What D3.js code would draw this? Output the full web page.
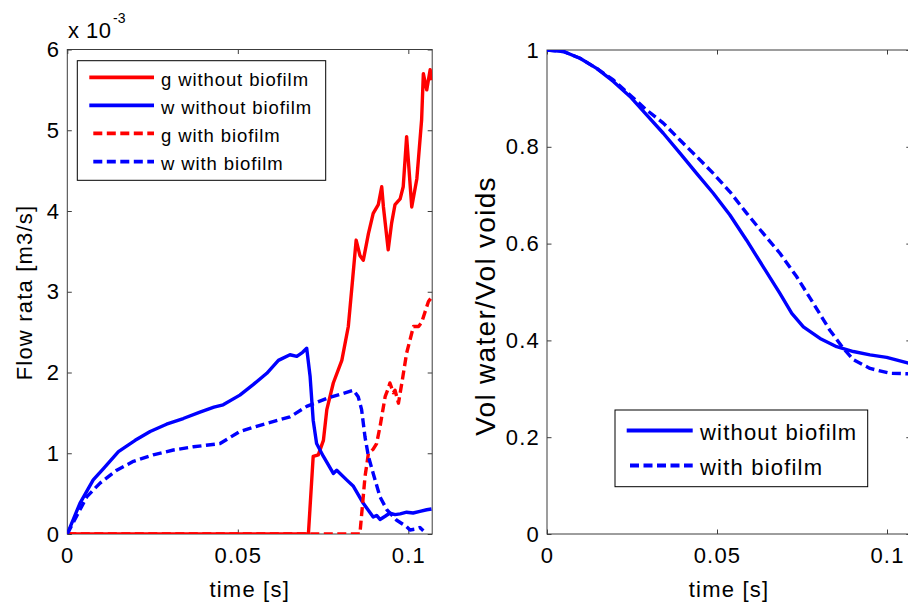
<!DOCTYPE html>
<html>
<head>
<meta charset="utf-8">
<script src="https://cdn.jsdelivr.net/npm/d3@7"></script>
<style>
  html, body { margin: 0; padding: 0; background: #fff; }
  svg { display: block; font-family: "Liberation Sans", Arial, Helvetica, sans-serif; }
</style>
</head>
<body>
<svg id="chart" width="908" height="605"></svg>
<script>
// ---- Left panel: flow rates (units of 1e-3 m3/s) ----
const tGasNoBio = [0, 0.0707, 0.0721, 0.0736, 0.0751, 0.0761, 0.0780, 0.0805, 0.0824, 0.0837, 0.0847, 0.0858, 0.0868, 0.0883, 0.0897, 0.0912, 0.0922, 0.0927, 0.0941, 0.0951, 0.0961, 0.0976, 0.0985, 0.0995, 0.1010, 0.1025, 0.1039, 0.1044, 0.1054, 0.1064, 0.1068];
const qGasNoBio = [0, 0, 0.96, 0.98, 1.16, 1.54, 1.87, 2.15, 2.57, 3.17, 3.64, 3.45, 3.39, 3.72, 3.97, 4.08, 4.30, 4.05, 3.52, 3.85, 4.08, 4.15, 4.30, 4.92, 4.05, 4.40, 5.13, 5.70, 5.50, 5.75, 5.62];

const tWatNoBio = [0, 0.0037, 0.0076, 0.0106, 0.0150, 0.0199, 0.0243, 0.0291, 0.0340, 0.0389, 0.0430, 0.0457, 0.0506, 0.0545, 0.0585, 0.0619, 0.0653, 0.0673, 0.0690, 0.0702, 0.0712, 0.0721, 0.0731, 0.0751, 0.0780, 0.0790, 0.0819, 0.0839, 0.0868, 0.0897, 0.0907, 0.0917, 0.0932, 0.0946, 0.0961, 0.0976, 0.0995, 0.1014, 0.1034, 0.1054, 0.1068];
const qWatNoBio = [0, 0.38, 0.67, 0.81, 1.02, 1.16, 1.27, 1.36, 1.43, 1.51, 1.57, 1.60, 1.72, 1.85, 1.99, 2.15, 2.22, 2.20, 2.25, 2.30, 1.95, 1.41, 1.12, 0.96, 0.75, 0.79, 0.67, 0.59, 0.38, 0.21, 0.23, 0.18, 0.22, 0.26, 0.24, 0.25, 0.27, 0.26, 0.28, 0.30, 0.31];

const tGasBio = [0, 0.0858, 0.0873, 0.0883, 0.0897, 0.0907, 0.0917, 0.0932, 0.0941, 0.0946, 0.0956, 0.0961, 0.0971, 0.0981, 0.0995, 0.1015, 0.1030, 0.1039, 0.1049, 0.1059, 0.1068];
const qGasBio = [0, 0, 0.71, 1.00, 1.05, 1.12, 1.33, 1.70, 1.80, 1.87, 1.75, 1.78, 1.62, 1.87, 2.24, 2.57, 2.57, 2.62, 2.75, 2.88, 2.93];

const tWatBio = [0, 0.0057, 0.0096, 0.0145, 0.0194, 0.0252, 0.0311, 0.0370, 0.0448, 0.0506, 0.0585, 0.0653, 0.0702, 0.0761, 0.0839, 0.0853, 0.0863, 0.0873, 0.0883, 0.0897, 0.0917, 0.0937, 0.0966, 0.0995, 0.1005, 0.1020, 0.1034, 0.1044];
const qWatBio = [0, 0.46, 0.63, 0.79, 0.90, 0.98, 1.04, 1.08, 1.12, 1.27, 1.37, 1.45, 1.58, 1.68, 1.78, 1.70, 1.54, 1.20, 0.96, 0.75, 0.46, 0.30, 0.17, 0.09, 0.05, 0.06, 0.08, 0.04];

// ---- Right panel: water saturation of the voids ----
const tSatNoBio = [0, 0.0048, 0.0097, 0.0146, 0.0195, 0.0244, 0.0293, 0.0342, 0.0391, 0.0440, 0.0489, 0.0538, 0.0587, 0.0636, 0.0685, 0.0720, 0.0754, 0.0803, 0.0852, 0.0901, 0.0950, 0.0999, 0.1068];
const sSatNoBio = [1, 0.997, 0.983, 0.962, 0.935, 0.904, 0.866, 0.828, 0.787, 0.745, 0.704, 0.659, 0.607, 0.552, 0.497, 0.456, 0.428, 0.404, 0.387, 0.377, 0.370, 0.365, 0.352];

const tSatBio = [0, 0.0048, 0.0097, 0.0146, 0.0195, 0.0244, 0.0293, 0.0342, 0.0391, 0.0440, 0.0489, 0.0538, 0.0587, 0.0636, 0.0685, 0.0734, 0.0783, 0.0832, 0.0871, 0.0901, 0.0950, 0.1009, 0.1068];
const sSatBio = [1, 0.997, 0.983, 0.962, 0.938, 0.907, 0.876, 0.849, 0.814, 0.780, 0.745, 0.707, 0.663, 0.621, 0.580, 0.532, 0.477, 0.421, 0.384, 0.360, 0.342, 0.332, 0.331];

// ---- ticks and labels ----
const timeTicks = [0, 0.05, 0.1];
const flowTicks = [0, 1, 2, 3, 4, 5, 6];
const satTicks = [0, 0.2, 0.4, 0.6, 0.8, 1];
const flowLegend = ["g without biofilm", "w without biofilm", "g with biofilm", "w with biofilm"];
const satLegend = ["without biofilm", "with biofilm"];

const RED = "#ff0000", BLUE = "#0000ff", AXIS = "#3c3c3c";
const DASH = "9,4.5";
const LW = 3.4;

const svg = d3.select("#chart");
svg.append("rect").attr("width", 908).attr("height", 605).attr("fill", "#fff");

function panel(id, xRange, yDomain, yTicks, yRange) {
  const x = d3.scaleLinear().domain([0, 0.107]).range(xRange);
  const y = d3.scaleLinear().domain(yDomain).range(yRange);
  const g = svg.append("g").attr("id", id);
  const [x0, x1] = xRange, [yb, yt] = yRange;

  g.append("clipPath").attr("id", id + "-clip")
    .append("rect").attr("x", x0).attr("y", yt).attr("width", x1 - x0).attr("height", yb - yt);

  const fmt = d => String(d);
  const style = sel => {
    sel.select(".domain").remove();
    sel.selectAll(".tick line").attr("stroke", AXIS);
    sel.selectAll("text").attr("fill", "#000")
      .style("font-size", "22px").style("letter-spacing", "1.2px")
      .style("font-family", "'Liberation Sans', Arial, sans-serif");
  };
  g.append("g").attr("transform", `translate(0,${yb})`)
    .call(d3.axisBottom(x).tickValues(timeTicks).tickFormat(fmt).tickSize(-4.5).tickPadding(13.5).tickSizeOuter(0)).call(style);
  g.append("g").attr("transform", `translate(0,${yt})`)
    .call(d3.axisTop(x).tickValues(timeTicks).tickFormat("").tickSize(-4.5).tickSizeOuter(0)).call(style);
  g.append("g").attr("transform", `translate(${x0},0)`)
    .call(d3.axisLeft(y).tickValues(yTicks).tickFormat(fmt).tickSize(-4.5).tickPadding(7).tickSizeOuter(0)).call(style);
  g.append("g").attr("transform", `translate(${x1},0)`)
    .call(d3.axisRight(y).tickValues(yTicks).tickFormat("").tickSize(-4.5).tickSizeOuter(0)).call(style);

  g.append("rect").attr("x", x0).attr("y", yt).attr("width", x1 - x0).attr("height", yb - yt)
    .attr("fill", "none").attr("stroke", AXIS).attr("stroke-width", 1);

  const plot = g.append("g").attr("clip-path", `url(#${id}-clip)`);
  const addLine = (ts, vs, color, dashed) => {
    const line = d3.line().x(d => x(d[0])).y(d => y(d[1]));
    plot.append("path").datum(d3.zip(ts, vs)).attr("d", line)
      .attr("fill", "none").attr("stroke", color).attr("stroke-width", LW)
      .attr("stroke-linejoin", "round")
      .attr("stroke-dasharray", dashed ? DASH : null);
  };
  return { g, x, y, addLine };
}

// Left panel
const left = panel("flow", [67.3, 432.2], [0, 6], flowTicks, [534, 49.5]);
left.addLine(tGasNoBio, qGasNoBio, RED, false);
left.addLine(tWatNoBio, qWatNoBio, BLUE, false);
left.addLine(tGasBio, qGasBio, RED, true);
left.addLine(tWatBio, qWatBio, BLUE, true);

// Right panel
const right = panel("sat", [547, 910.8], [0, 1], satTicks, [534, 50]);
right.addLine(tSatNoBio, sSatNoBio, BLUE, false);
right.addLine(tSatBio, sSatBio, BLUE, true);

// Axis labels
const label = (txt, x, y, rot, size, ls) => {
  svg.append("text").attr("transform", `translate(${x},${y}) rotate(${rot})`)
    .attr("text-anchor", "middle").attr("fill", "#000")
    .style("font-size", size + "px").style("letter-spacing", ls + "px")
    .text(txt);
};
label("time [s]", 249.7, 596.5, 0, 22, 1.2);
label("time [s]", 729, 596.5, 0, 22, 1.2);
label("Flow rata [m3/s]", 32, 292.5, -90, 22, 1.2);
label("Vol water/Vol voids", 495, 306, -90, 28, 1.3);

// Exponent marker for the flow axis
svg.append("text").attr("x", 68).attr("y", 38).attr("fill", "#000")
  .style("font-size", "22px").style("letter-spacing", "0.5px").text("x 10");
svg.append("text").attr("x", 113).attr("y", 23).attr("fill", "#000")
  .style("font-size", "14px").text("-3");

// Legends
function legend(box, rows, colors, dashed, lineX, dashX, textX, size, ls, baseOff) {
  const lg = svg.append("g");
  lg.append("rect").attr("x", box[0]).attr("y", box[1]).attr("width", box[2] - box[0]).attr("height", box[3] - box[1])
    .attr("fill", "#fff").attr("stroke", "#000").attr("stroke-width", 1);
  rows.forEach((r, i) => {
    lg.append("line").attr("x1", dashed[i] ? dashX : lineX[0]).attr("x2", lineX[1])
      .attr("y1", r.y).attr("y2", r.y).attr("stroke", colors[i]).attr("stroke-width", LW + 0.4)
      .attr("stroke-dasharray", dashed[i] ? DASH : null);
    lg.append("text").attr("x", textX).attr("y", r.y + baseOff).attr("fill", "#000")
      .style("font-size", size + "px").style("letter-spacing", ls + "px").text(r.label);
  });
}
legend([77.3, 60.7, 325.7, 180.3],
  flowLegend.map((l, i) => ({ label: l, y: [77.3, 105.3, 133.3, 161.7][i] })),
  [RED, BLUE, RED, BLUE], [false, false, true, true],
  [89.3, 154], 93.3, 161, 18.5, 0.9, 8.5);
legend([615, 410, 867.7, 486.7],
  satLegend.map((l, i) => ({ label: l, y: [430.5, 465.5][i] })),
  [BLUE, BLUE], [false, true],
  [626.7, 692.7], 630, 700, 22, 1.2, 9.5);
</script>
</body>
</html>
